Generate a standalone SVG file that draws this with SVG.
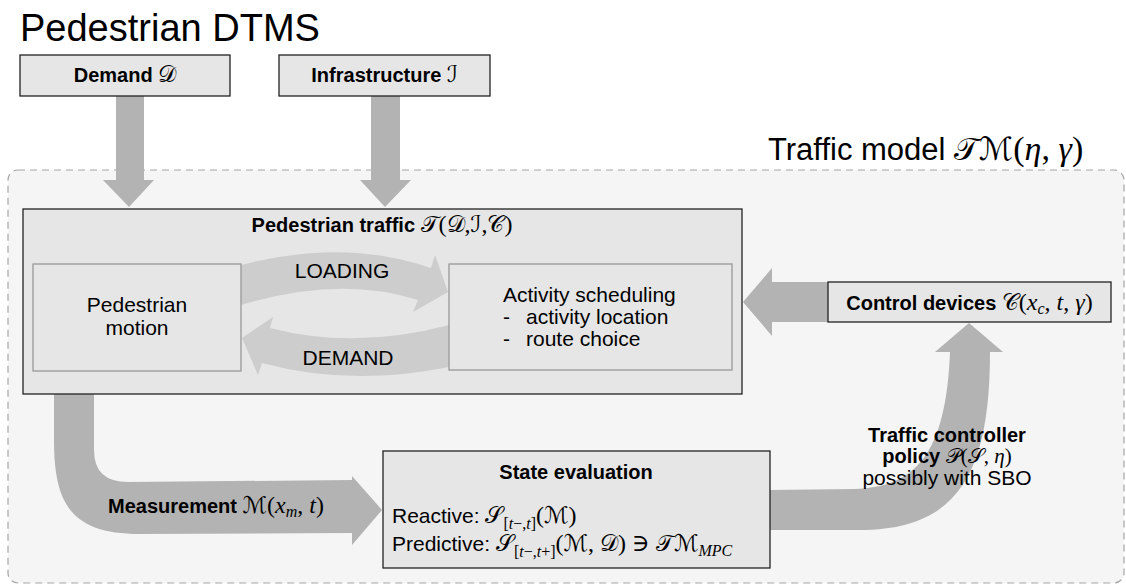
<svg xmlns="http://www.w3.org/2000/svg" width="1126" height="588" viewBox="0 0 1126 588">
  <style>
    .box{fill:#e6e6e6;stroke:#222;stroke-width:1.3}
    .inner{fill:#e6e6e6;stroke:#999;stroke-width:1.3}
    .big{fill:#b3b3b3}
    .loop{fill:#cdcdcd}
    text{font-family:"Liberation Sans",Arial,sans-serif;fill:#000;font-size:20px}
    .b{font-weight:bold}
    .r{font-size:21px}
    .m{font-family:"Liberation Serif","DejaVu Serif",serif;font-weight:normal;font-size:24px}
    .mi{font-family:"Liberation Serif","DejaVu Serif",serif;font-style:italic;font-weight:normal;font-size:24px}
    .cal{font-family:"DejaVu Serif","DejaVu Sans",serif;font-weight:normal;font-style:normal;font-size:23px}
    .sub{font-size:16px}
    .s21{font-size:21px}
  </style>

  <!-- title -->
  <text x="20" y="41" style="font-size:38px">Pedestrian DTMS</text>

  <!-- traffic model container -->
  <g id="traffic-model">
    <rect x="8" y="170" width="1116" height="413" rx="10" fill="#f5f5f5" stroke="#a6a6a6" stroke-width="1.2" stroke-dasharray="7,5"/>
    <text x="768" y="160" style="font-size:31px">Traffic model <tspan class="cal" style="font-size:32px">𝒯ℳ</tspan><tspan class="m" style="font-size:34px">(</tspan><tspan class="mi" style="font-size:34px">η</tspan><tspan class="m" style="font-size:34px">, </tspan><tspan class="mi" style="font-size:34px">γ</tspan><tspan class="m" style="font-size:34px">)</tspan></text>
  </g>

  <g id="connectors">
    <!-- demand and infrastructure feeds -->
    <polygon class="big" points="116,96 144,96 144,180 154,180 129,207 103,180 116,180"/>
    <polygon class="big" points="371,96 400,96 400,180 411,180 385,207 360,180 371,180"/>
    <!-- control devices to traffic -->
    <polygon class="big" points="828,282 772,282 772,268 743,302 772,336 772,322 828,322"/>
    <!-- measurement -->
    <path class="big" d="M54,394 L94,394 L94,450 Q94,482 128,482 L352,480 L352,476 L382,510 L352,545 L352,533 L140,534 C72,534 54,505 54,440 Z"/>
    <!-- controller policy -->
    <path class="big" d="M770,490 L855,489 C915,487 946,455 950,352 L935,352 L969,323 L1003,352 L990,352 C990,470 960,530 860,530 L770,530 Z"/>
  </g>

  <!-- pedestrian traffic -->
  <g id="pedestrian-traffic">
    <rect class="box" x="23" y="209" width="719" height="185"/>
    <text class="b" x="382" y="232" text-anchor="middle">Pedestrian traffic <tspan class="cal">𝒯</tspan><tspan class="m">(</tspan><tspan class="cal">𝒟</tspan><tspan class="m">,</tspan><tspan class="cal">ℐ</tspan><tspan class="m">,</tspan><tspan class="cal">𝒞</tspan><tspan class="m">)</tspan></text>
  </g>

  <g id="loop-connectors">
    <path class="loop" d="M241,265 Q345,238 431,268 L435,255 L448,292 L413,312 L418,300 Q340,275 241,305 Z"/>
    <path class="loop" d="M449,325 Q355,350 270,328 L273,317 L242,338 L258,375 L262,363 Q350,387 449,367 Z"/>
    <text class="r" x="342" y="278" text-anchor="middle">LOADING</text>
    <text class="r" x="348" y="365" text-anchor="middle">DEMAND</text>
  </g>

  <g id="pedestrian-motion">
    <rect class="inner" x="33" y="264" width="208" height="107"/>
    <text class="r" x="137" y="312" text-anchor="middle">Pedestrian</text>
    <text class="r" x="137" y="335" text-anchor="middle">motion</text>
  </g>

  <g id="activity-scheduling">
    <rect class="inner" x="449" y="264" width="283" height="106"/>
    <text class="r" x="503" y="302">Activity scheduling</text>
    <text class="r" y="324"><tspan x="503">-</tspan><tspan x="526">activity location</tspan></text>
    <text class="r" y="346"><tspan x="503">-</tspan><tspan x="526">route choice</tspan></text>
  </g>

  <g id="demand">
    <rect class="box" x="20" y="55" width="210" height="41"/>
    <text class="b" x="125" y="82" text-anchor="middle">Demand <tspan class="cal">𝒟</tspan></text>
  </g>

  <g id="infrastructure">
    <rect class="box" x="279" y="55" width="211" height="41"/>
    <text class="b" x="384.5" y="82" text-anchor="middle">Infrastructure <tspan class="cal">ℐ</tspan></text>
  </g>

  <g id="control-devices">
    <rect class="box" x="828" y="282" width="283" height="40"/>
    <text class="b" x="969.5" y="310" text-anchor="middle">Control devices <tspan class="cal">𝒞</tspan><tspan class="m">(</tspan><tspan class="mi">x</tspan><tspan class="mi sub" dy="4">c</tspan><tspan class="m" dy="-4">, </tspan><tspan class="mi">t</tspan><tspan class="m">, </tspan><tspan class="mi">γ</tspan><tspan class="m">)</tspan></text>
  </g>

  <g id="measurement-label">
    <text class="b" x="108" y="513">Measurement <tspan class="cal">ℳ</tspan><tspan class="m">(</tspan><tspan class="mi">x</tspan><tspan class="mi sub" dy="4">m</tspan><tspan class="m" dy="-4">, </tspan><tspan class="mi">t</tspan><tspan class="m">)</tspan></text>
  </g>

  <g id="state-evaluation">
    <rect class="box" x="383" y="451" width="387" height="117"/>
    <text class="b" x="576" y="479" text-anchor="middle">State evaluation</text>
    <text class="r" x="392" y="523">Reactive: <tspan class="cal">𝒮</tspan><tspan class="m sub" dy="6">[</tspan><tspan class="mi sub">t</tspan><tspan class="m sub">−,</tspan><tspan class="mi sub">t</tspan><tspan class="m sub">]</tspan><tspan class="m" dy="-6">(</tspan><tspan class="cal">ℳ</tspan><tspan class="m">)</tspan></text>
    <text class="r" x="392" y="551">Predictive: <tspan class="cal">𝒮</tspan><tspan class="m sub" dy="6">[</tspan><tspan class="mi sub">t</tspan><tspan class="m sub">−,</tspan><tspan class="mi sub">t</tspan><tspan class="m sub">+]</tspan><tspan class="m" dy="-6">(</tspan><tspan class="cal">ℳ</tspan><tspan class="m">, </tspan><tspan class="cal">𝒟</tspan><tspan class="m">) ∋ </tspan><tspan class="cal">𝒯ℳ</tspan><tspan class="mi sub" dy="5">MPC</tspan></text>
  </g>

  <g id="controller-policy">
    <text class="b" x="947" y="442" text-anchor="middle">Traffic controller</text>
    <text class="b" x="947" y="463" text-anchor="middle">policy <tspan class="cal s21">𝒫</tspan><tspan class="m s21">(</tspan><tspan class="cal s21">𝒮</tspan><tspan class="m s21">, </tspan><tspan class="mi s21">η</tspan><tspan class="m s21">)</tspan></text>
    <text class="r" x="947" y="485" text-anchor="middle">possibly with SBO</text>
  </g>
</svg>
